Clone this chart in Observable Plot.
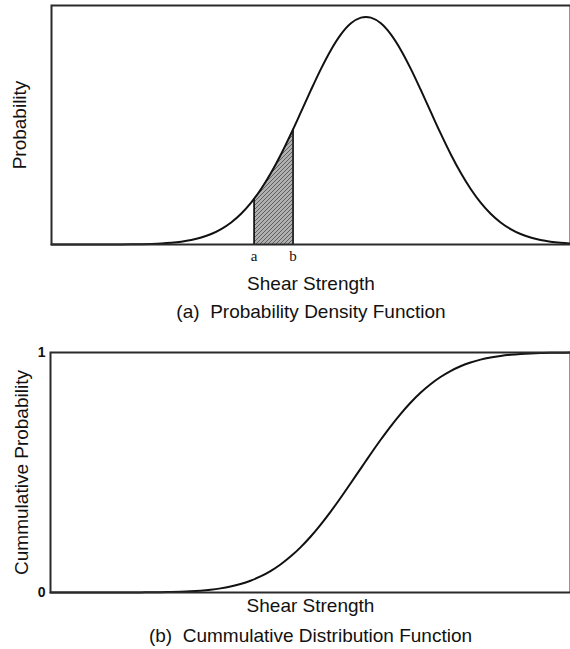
<!DOCTYPE html>
<html><head><meta charset="utf-8">
<script src="https://cdn.jsdelivr.net/npm/d3@7"></script>
<script src="https://cdn.jsdelivr.net/npm/@observablehq/plot@0.6"></script>
<style>
body{margin:0;background:#fff;width:570px;height:649px;overflow:hidden}
svg{display:block}
</style>
</head><body><div id="chart"></div>
<script>
// Shear strength (arbitrary units) sampled along the horizontal axis
const strength = [0,2,4,6,8,10,12,14,16,18,20,22,24,26,28,30,32,34,36,38,40,42,44,46,48,50,52,54,56,58,60,62,63,64,66,68,70,72,74,76,78,80,82,84,86,88,90,92,94,96,98,100,102,104];
// Probability density (relative to peak)
const density = [0,0,0,0,0,0.0001,0.0002,0.0005,0.0009,0.0015,0.0027,0.0046,0.0077,0.0125,0.0198,0.0307,0.0462,0.0678,0.097,0.1353,0.184,0.2439,0.315,0.3966,0.4868,0.5823,0.679,0.7717,0.8549,0.9231,0.9716,0.9968,1.0,0.9968,0.9716,0.9231,0.8549,0.7717,0.679,0.5823,0.4868,0.3966,0.315,0.2439,0.184,0.1353,0.097,0.0678,0.0462,0.0307,0.0198,0.0125,0.0077,0.0046];
// Cumulative probability
const cumulative = [0,0,0,0,0,0,0,0.0001,0.0002,0.0004,0.0007,0.0012,0.002,0.0032,0.005,0.0077,0.0116,0.0172,0.0249,0.0353,0.0491,0.0668,0.0891,0.1166,0.1496,0.1881,0.2324,0.282,0.3361,0.3939,0.4542,0.5153,0.5458,0.5762,0.6353,0.6915,0.7434,0.7904,0.8319,0.8677,0.8978,0.9226,0.9426,0.9583,0.9703,0.9792,0.9858,0.9905,0.9938,0.996,0.9975,0.9985,0.9991,0.9995];
// Shaded interval a..b
const shadeStrength = [40.6,42,44,46,48,48.4];
const shadeDensity = [0.201,0.2439,0.315,0.3966,0.4868,0.506];
const boundLabels = ["a","b"];
const boundStrength = [40.6,48.4];
const boundDensity = [0.201,0.506];
const cdfTicks = [0,1];
const xLabel = "Shear Strength";
const yLabelTop = "Probability";
const yLabelBottom = "Cummulative Probability";
const captionA = "(a)  Probability Density Function";
const captionB = "(b)  Cummulative Distribution Function";

const font = "'Liberation Sans', Arial, Helvetica, sans-serif";
const ink = "#111";

const pdfRows = strength.map((s, i) => ({s, p: density[i]}));
const cdfRows = strength.map((s, i) => ({s, c: cumulative[i]}));
const shadeRows = shadeStrength.map((s, i) => ({s, p: shadeDensity[i]}));
const boundRows = boundStrength.map((s, i) => ({s, p: boundDensity[i], label: boundLabels[i]}));

const topPlot = Plot.plot({
  width: 570, height: 325,
  marginLeft: 51, marginRight: 0, marginTop: 5, marginBottom: 81,
  style: {fontFamily: font, background: "white", color: ink, overflow: "visible"},
  x: {domain: [0, 104]},
  y: {domain: [0, 1.05], axis: null},
  marks: [
    Plot.areaY(shadeRows, {x: "s", y: "p", fill: "url(#hatch)", curve: "monotone-x"}),
    Plot.ruleX(boundRows, {x: "s", y1: 0, y2: "p", stroke: ink, strokeWidth: 1.7}),
    Plot.line(pdfRows, {x: "s", y: "p", stroke: ink, strokeWidth: 2, curve: "monotone-x"}),
    Plot.frame({stroke: "#2a2a2a", strokeWidth: 2}),
    Plot.axisX({ticks: boundStrength, tickFormat: d => boundLabels[boundStrength.indexOf(d)], tickSize: 0, tickPadding: 6, fontFamily: "'Liberation Serif', 'DejaVu Serif', serif", fontSize: 15, label: null}),
    Plot.text([yLabelTop], {text: d => d, frameAnchor: "left", rotate: -90, dx: -32, textAnchor: "middle", lineAnchor: "middle", fontSize: 19, fill: ink}),
    Plot.text([xLabel], {text: d => d, frameAnchor: "bottom", dy: 39, textAnchor: "middle", lineAnchor: "middle", fontSize: 19, fill: ink}),
    Plot.text([captionA], {text: d => d, frameAnchor: "bottom", dy: 67, textAnchor: "middle", lineAnchor: "middle", fontSize: 19, fill: ink})
  ]
});

const defs = d3.select(topPlot).insert("defs", ":first-child");
const pat = defs.append("pattern").attr("id", "hatch").attr("patternUnits", "userSpaceOnUse").attr("width", 4).attr("height", 4);
pat.append("rect").attr("width", 4).attr("height", 4).attr("fill", "#b0b0b0");
pat.append("path").attr("d", "M-1,1 l2,-2 M0,4 l4,-4 M3,5 l2,-2").attr("stroke", "#555").attr("stroke-width", 0.9);

const bottomPlot = Plot.plot({
  width: 570, height: 324,
  marginLeft: 50, marginRight: 0, marginTop: 27, marginBottom: 57,
  style: {fontFamily: font, background: "white", color: ink, overflow: "visible"},
  x: {domain: [0, 104], axis: null},
  y: {domain: [0, 1]},
  marks: [
    Plot.line(cdfRows, {x: "s", y: "c", stroke: ink, strokeWidth: 2, curve: "monotone-x"}),
    Plot.frame({stroke: "#2a2a2a", strokeWidth: 2}),
    Plot.axisY({ticks: cdfTicks, tickFormat: d => String(d), tickSize: 0, tickPadding: 5, fontSize: 14, fontWeight: "bold", label: null}),
    Plot.text([yLabelBottom], {text: d => d, frameAnchor: "left", rotate: -90, dx: -29, textAnchor: "middle", lineAnchor: "middle", fontSize: 19, fill: ink}),
    Plot.text([xLabel], {text: d => d, frameAnchor: "bottom", dy: 13, textAnchor: "middle", lineAnchor: "middle", fontSize: 19, fill: ink}),
    Plot.text([captionB], {text: d => d, frameAnchor: "bottom", dy: 43, textAnchor: "middle", lineAnchor: "middle", fontSize: 19, fill: ink})
  ]
});

const chart = document.getElementById("chart");
chart.appendChild(topPlot);
chart.appendChild(bottomPlot);
</script>
</body></html>
